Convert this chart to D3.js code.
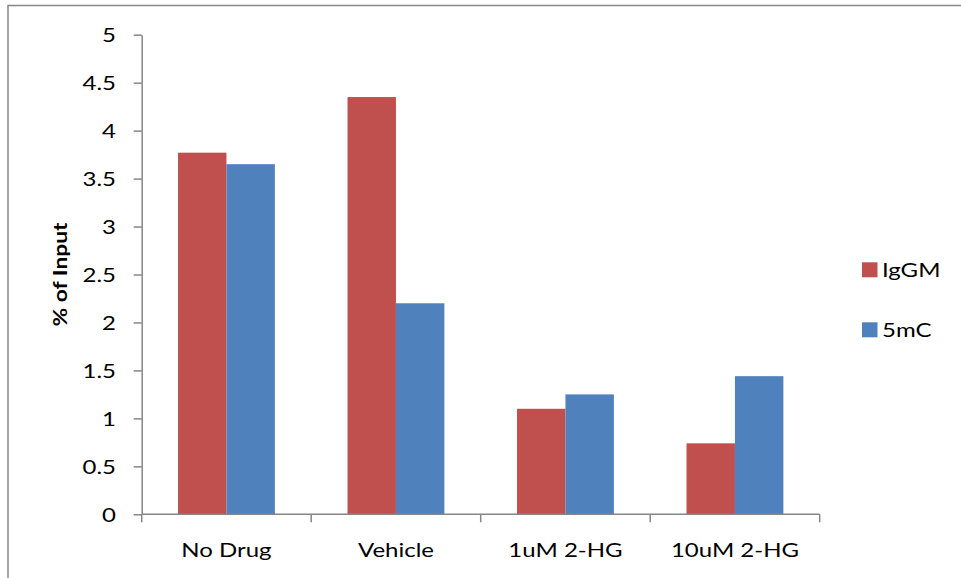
<!DOCTYPE html>
<html>
<head>
<meta charset="utf-8">
<script src="https://cdn.jsdelivr.net/npm/d3@7"></script>
<style>
  html, body { margin: 0; padding: 0; background: #fff; }
  svg { display: block; }
  text { font-family: Lato, "Open Sans", sans-serif; fill: #000; }
</style>
</head>
<body>
<script>
// Chart data
const categories = ["No Drug", "Vehicle", "1uM 2-HG", "10uM 2-HG"];
const seriesNames = ["IgGM", "5mC"];
const iggmValues = [3.77, 4.35, 1.10, 0.74];
const mc5Values = [3.65, 2.20, 1.25, 1.44];
const yTicks = [0, 0.5, 1, 1.5, 2, 2.5, 3, 3.5, 4, 4.5, 5];
const yTitle = "% of Input";

const colors = ["#C0504D", "#4F81BD"];
const W = 961, H = 578;
const plotLeft = 141.7, plotRight = 819.7, plotTop = 34.7, plotBottom = 514.3;
const sx = 1.2;        // horizontal stretch of all lettering
const fontSize = 20;

const svg = d3.select("body").append("svg").attr("width", W).attr("height", H);

// outer chart frame
svg.append("rect")
  .attr("x", 8).attr("y", 5.5).attr("width", 1000).attr("height", 700)
  .attr("fill", "none").attr("stroke", "#868686").attr("stroke-width", 1.5);

const x = d3.scaleBand().domain(categories).range([plotLeft, plotRight]).paddingInner(0).paddingOuter(0);
const y = d3.scaleLinear().domain([0, 5]).range([plotBottom, plotTop]);
// two bars per group, gap between groups 75% of a bar pair
const groupW = x.bandwidth() / 1.75;
const xs = d3.scaleBand().domain(seriesNames).range([0, groupW]);

const rows = categories.map((c, i) => ({ cat: c, vals: [iggmValues[i], mc5Values[i]] }));

// bars
const g = svg.append("g");
rows.forEach(r => {
  const gx = x(r.cat) + (x.bandwidth() - groupW) / 2;
  g.selectAll(null).data(r.vals).enter().append("rect")
    .attr("x", (d, j) => gx + xs(seriesNames[j]))
    .attr("y", d => y(d))
    .attr("width", xs.bandwidth())
    .attr("height", d => plotBottom - y(d))
    .attr("fill", (d, j) => colors[j]);
});

// y axis
const yAxis = svg.append("g").attr("transform", `translate(${plotLeft},0)`)
  .call(d3.axisLeft(y).tickValues(yTicks).tickSize(8).tickSizeOuter(0).tickFormat(d3.format("")));
yAxis.select(".domain").attr("stroke", "#868686").attr("stroke-width", 1.5);
yAxis.selectAll(".tick line").attr("stroke", "#868686").attr("stroke-width", 1.5);
yAxis.selectAll(".tick text")
  .attr("x", 0).attr("dy", "0.36em")
  .attr("transform", `translate(-25.7,0) scale(${sx},1)`)
  .attr("text-anchor", "end")
  .style("font-size", fontSize + "px").style("font-family", "Lato, 'Open Sans', sans-serif");

// x axis: tick marks sit on category boundaries
const xAxisG = svg.append("g").attr("transform", `translate(0,${plotBottom})`);
xAxisG.append("line").attr("x1", plotLeft).attr("x2", plotRight)
  .attr("stroke", "#868686").attr("stroke-width", 1.5);
const bounds = categories.map(c => x(c)).concat([plotRight]);
xAxisG.selectAll(".bt").data(bounds).enter().append("line")
  .attr("x1", d => d).attr("x2", d => d).attr("y1", 0).attr("y2", 8)
  .attr("stroke", "#868686").attr("stroke-width", 1.5);
xAxisG.selectAll(".lbl").data(categories).enter().append("text")
  .attr("transform", d => `translate(${x(d) + x.bandwidth() / 2},42.4) scale(${sx},1)`)
  .attr("text-anchor", "middle")
  .style("font-size", fontSize + "px")
  .text(d => d);

// y axis title
svg.append("text")
  .attr("transform", `translate(67,${(plotTop + plotBottom) / 2}) rotate(-90) scale(${sx},1)`)
  .attr("text-anchor", "middle")
  .style("font-size", "19px").style("font-weight", "bold")
  .text(yTitle);

// legend
const leg = svg.append("g");
seriesNames.forEach((name, i) => {
  const ly = 262.3 + i * 60;
  leg.append("rect").attr("x", 862).attr("y", ly).attr("width", 15.5).attr("height", 15)
    .attr("fill", colors[i]);
  leg.append("text")
    .attr("transform", `translate(882,${ly + 14.5}) scale(${sx},1)`)
    .style("font-size", fontSize + "px")
    .text(name);
});
</script>
</body>
</html>
